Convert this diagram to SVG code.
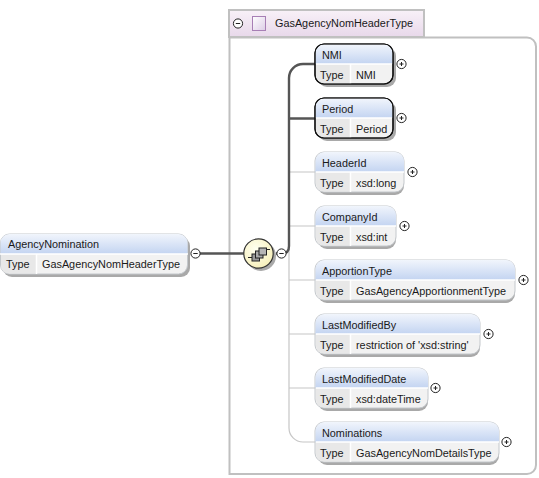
<svg xmlns="http://www.w3.org/2000/svg" xmlns:xlink="http://www.w3.org/1999/xlink" width="539" height="478" viewBox="0 0 539 478">
<style>
text{font-family:"Liberation Sans",Arial,sans-serif;font-size:10.85px;fill:#1a1a1a}
.sh{fill:#a9a9a9;stroke:none}
.bd{fill:#f2f2f2;stroke:#c4c8cc;stroke-width:1}
.bd.k{stroke:#111;stroke-width:1.2}
.cell{fill:#e8e8e8}
.div{stroke:#fff;stroke-width:1.5}
.thin{fill:none;stroke:#c6c6c6;stroke-width:1.2}
.thick{fill:none;stroke:#555;stroke-width:2.4}
.c{fill:#fff;stroke:#222;stroke-width:1}
.m{stroke:#222;stroke-width:1;fill:none}
</style>
<defs>
<linearGradient id="hd" x1="0" y1="0" x2="0" y2="1"><stop offset="0" stop-color="#f1f5fc"/><stop offset="1" stop-color="#c3d4f1"/></linearGradient>
<linearGradient id="ttl" x1="0" y1="0" x2="0" y2="1"><stop offset="0" stop-color="#f8f1f8"/><stop offset="1" stop-color="#e8d8ea"/></linearGradient>
<linearGradient id="sq" x1="0" y1="0" x2="1" y2="1"><stop offset="0" stop-color="#fff"/><stop offset="1" stop-color="#dccde6"/></linearGradient>
<radialGradient id="seq" cx="0.4" cy="0.35" r="0.7"><stop offset="0" stop-color="#fffff0"/><stop offset="1" stop-color="#f6efb8"/></radialGradient>
<g id="plus"><circle class="c" r="4.6"/><path class="m" d="M-2 0H2M0-2V2"/></g>
<g id="minus"><circle class="c" r="4.6"/><path class="m" d="M-2.2 0H2.2"/></g>
</defs>
<rect width="539" height="478" fill="#fff"/>
<g id="GasAgencyNomHeaderType">
<path d="M229.500 37.500H527a9 9 0 0 1 9 9V465a9 9 0 0 1-9 9H229.500Z" fill="#fff" stroke="#c0c0c0" stroke-width="2"/>
<rect x="229" y="10" width="195" height="27" fill="url(#ttl)" stroke="#c0c0c0" stroke-width="2"/>
<use xlink:href="#minus" x="238" y="23.500"/>
<rect x="252.500" y="16.500" width="13" height="14" fill="url(#sq)" stroke="#a77fb5"/>
<text x="275" y="27">GasAgencyNomHeaderType</text>
</g>
<g id="connectors">
<path class="thin" d="M289 118V428a14 14 0 0 0 14 14H315M289 172H315M289 226H315M289 280H315M289 334H315M289 388H315"/>
<path class="thick" d="M191 253.500H244"/>
<path class="thick" d="M276 253.500H282Q289 253.500 289 246V78a14 14 0 0 1 14-14H315M289 118.500H315"/>
</g>
<g id="AgencyNomination">
<rect class="sh" x="3" y="237" width="187" height="40" rx="9"/>
<rect class="bd" x="0.500" y="234" width="187" height="40" rx="9"/>
<path d="M0.500 254V243a9 9 0 0 1 9-9H178.500a9 9 0 0 1 9 9V254Z" fill="url(#hd)"/>
<path class="cell" d="M1 254H36V273.500H9a8 8 0 0 1-8-8Z"/>
<path class="div" d="M36.500 254V274M0 254H188"/>
<text x="8" y="248">AgencyNomination</text><text x="6" y="268">Type</text><text x="42" y="268">GasAgencyNomHeaderType</text>
<use xlink:href="#minus" x="195.500" y="253.500"/>
</g>
<g id="sequence">
<circle cx="261" cy="256" r="15" fill="#a9a9a9"/>
<circle cx="258.500" cy="253.500" r="14.700" fill="url(#seq)" stroke="#333" stroke-width="1.2"/>
<path d="M248 257.500H252M266 249.500H270" stroke="#222" fill="none"/>
<rect x="252" y="254" width="7.500" height="7" fill="#999" stroke="#222"/>
<rect x="255.500" y="251" width="7.500" height="7" fill="#aaa" stroke="#222"/>
<rect x="259" y="248" width="7.500" height="7" fill="#b5b5b5" stroke="#222"/>
<use xlink:href="#minus" x="281.500" y="253.500"/>
</g>
<g id="NMI">
<rect class="sh" x="318" y="47" width="78" height="40" rx="9"/>
<rect class="bd k" x="315" y="44" width="78" height="40" rx="9"/>
<path d="M315.600 64V53a8.500 8.500 0 0 1 8.500-8.500H384a8.500 8.500 0 0 1 8.500 8.500V64Z" fill="url(#hd)"/>
<path class="cell" d="M316 64H350V83.400H324a8 8 0 0 1-8-8Z"/>
<path class="div" d="M350.500 64V83.500M316 64H392"/>
<rect x="315" y="44" width="78" height="40" rx="9" fill="none" stroke="#111" stroke-width="1.2"/>
<text x="322" y="59">NMI</text><text x="320" y="79">Type</text><text x="356" y="79">NMI</text>
<use xlink:href="#plus" x="401.500" y="64"/>
</g>
<g id="Period">
<rect class="sh" x="318" y="101" width="78" height="40" rx="9"/>
<rect class="bd k" x="315" y="98" width="78" height="40" rx="9"/>
<path d="M315.600 118V107a8.500 8.500 0 0 1 8.500-8.500H384a8.500 8.500 0 0 1 8.500 8.500V118Z" fill="url(#hd)"/>
<path class="cell" d="M316 118H350V137.400H324a8 8 0 0 1-8-8Z"/>
<path class="div" d="M350.500 118V137.500M316 118H392"/>
<rect x="315" y="98" width="78" height="40" rx="9" fill="none" stroke="#111" stroke-width="1.2"/>
<text x="322" y="113">Period</text><text x="320" y="133">Type</text><text x="356" y="133">Period</text>
<use xlink:href="#plus" x="401.500" y="118"/>
</g>
<g id="HeaderId">
<rect class="sh" x="318" y="155" width="86" height="40" rx="9"/>
<rect class="bd" x="315" y="152" width="89" height="40" rx="9"/>
<path d="M315.500 172V161a9 9 0 0 1 9-9H395a9 9 0 0 1 9 9V172Z" fill="url(#hd)"/>
<path class="cell" d="M316 172H350V191.500H324a8 8 0 0 1-8-8Z"/>
<path class="div" d="M350.500 172V192M316 172H404"/>
<text x="322" y="167">HeaderId</text><text x="320" y="187">Type</text><text x="356" y="187">xsd:long</text>
<use xlink:href="#plus" x="412.500" y="172"/>
</g>
<g id="CompanyId">
<rect class="sh" x="318" y="209" width="78" height="40" rx="9"/>
<rect class="bd" x="315" y="206" width="81" height="40" rx="9"/>
<path d="M315.500 226V215a9 9 0 0 1 9-9H387a9 9 0 0 1 9 9V226Z" fill="url(#hd)"/>
<path class="cell" d="M316 226H350V245.500H324a8 8 0 0 1-8-8Z"/>
<path class="div" d="M350.500 226V246M316 226H396"/>
<text x="322" y="221">CompanyId</text><text x="320" y="241">Type</text><text x="356" y="241">xsd:int</text>
<use xlink:href="#plus" x="404.500" y="226"/>
</g>
<g id="ApportionType">
<rect class="sh" x="318" y="263" width="197" height="40" rx="9"/>
<rect class="bd" x="315" y="260" width="200" height="40" rx="9"/>
<path d="M315.500 280V269a9 9 0 0 1 9-9H506a9 9 0 0 1 9 9V280Z" fill="url(#hd)"/>
<path class="cell" d="M316 280H350V299.500H324a8 8 0 0 1-8-8Z"/>
<path class="div" d="M350.500 280V300M316 280H515"/>
<text x="322" y="275">ApportionType</text><text x="320" y="295">Type</text><text x="356" y="295">GasAgencyApportionmentType</text>
<use xlink:href="#plus" x="523.500" y="280"/>
</g>
<g id="LastModifiedBy">
<rect class="sh" x="318" y="317" width="162" height="40" rx="9"/>
<rect class="bd" x="315" y="314" width="165" height="40" rx="9"/>
<path d="M315.500 334V323a9 9 0 0 1 9-9H471a9 9 0 0 1 9 9V334Z" fill="url(#hd)"/>
<path class="cell" d="M316 334H350V353.500H324a8 8 0 0 1-8-8Z"/>
<path class="div" d="M350.500 334V354M316 334H480"/>
<text x="322" y="329">LastModifiedBy</text><text x="320" y="349">Type</text><text x="356" y="349">restriction of 'xsd:string'</text>
<use xlink:href="#plus" x="488.500" y="334"/>
</g>
<g id="LastModifiedDate">
<rect class="sh" x="318" y="371" width="110" height="40" rx="9"/>
<rect class="bd" x="315" y="368" width="113" height="40" rx="9"/>
<path d="M315.500 388V377a9 9 0 0 1 9-9H419a9 9 0 0 1 9 9V388Z" fill="url(#hd)"/>
<path class="cell" d="M316 388H350V407.500H324a8 8 0 0 1-8-8Z"/>
<path class="div" d="M350.500 388V408M316 388H428"/>
<text x="322" y="383">LastModifiedDate</text><text x="320" y="403">Type</text><text x="356" y="403">xsd:dateTime</text>
<use xlink:href="#plus" x="435.500" y="388"/>
</g>
<g id="Nominations">
<rect class="sh" x="318" y="425" width="181" height="40" rx="9"/>
<rect class="bd" x="315" y="422" width="184" height="40" rx="9"/>
<path d="M315.500 442V431a9 9 0 0 1 9-9H490a9 9 0 0 1 9 9V442Z" fill="url(#hd)"/>
<path class="cell" d="M316 442H350V461.500H324a8 8 0 0 1-8-8Z"/>
<path class="div" d="M350.500 442V462M316 442H499"/>
<text x="322" y="437">Nominations</text><text x="320" y="457">Type</text><text x="356" y="457">GasAgencyNomDetailsType</text>
<use xlink:href="#plus" x="506.500" y="442"/>
</g>
</svg>
